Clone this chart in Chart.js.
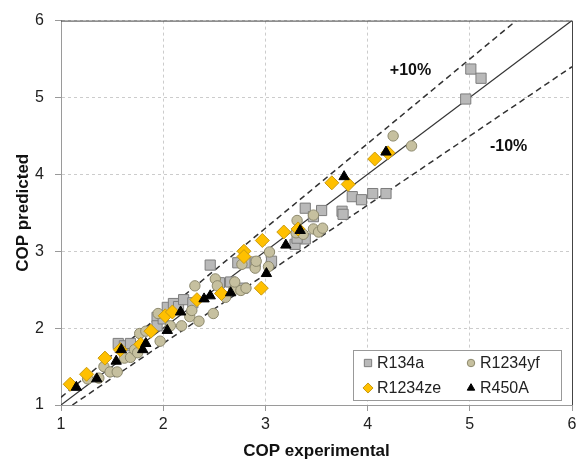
<!DOCTYPE html>
<html>
<head>
<meta charset="utf-8">
<script src="https://cdn.jsdelivr.net/npm/chart.js@4/dist/chart.umd.min.js"></script>
<style>
  html, body { margin: 0; padding: 0; background: #fff; }
  #wrap { width: 588px; height: 464px; }
</style>
</head>
<body>
<div id="wrap"><canvas id="myChart" width="588" height="464"></canvas></div>
<script>
// R134a
const r134aX = [1.56, 1.62, 1.68, 1.94, 1.94, 2.00, 2.04, 2.10, 2.15, 2.20, 2.29, 2.46, 2.55, 2.66, 2.78, 2.73, 2.82, 2.90, 3.06, 3.29, 3.39, 3.31, 3.39, 3.47, 3.55, 3.75, 3.76, 3.85, 3.94, 4.05, 4.18, 4.96, 5.01, 5.11];
const r134aY = [1.80, 1.77, 1.80, 2.14, 2.03, 2.12, 2.27, 2.32, 2.28, 2.37, 2.33, 2.82, 2.59, 2.60, 2.52, 2.85, 2.85, 2.86, 2.87, 3.09, 3.16, 3.17, 3.56, 3.45, 3.53, 3.52, 3.48, 3.71, 3.67, 3.75, 3.75, 4.98, 5.37, 5.25];
// R1234yf
const r1234yfX = [1.26, 1.37, 1.42, 1.48, 1.55, 1.62, 1.68, 1.72, 1.77, 1.75, 1.83, 1.97, 1.95, 2.07, 2.18, 2.26, 2.35, 2.28, 2.49, 2.31, 2.51, 2.53, 2.61, 2.69, 2.76, 2.81, 2.70, 2.77, 2.90, 2.91, 3.03, 3.04, 3.31, 3.30, 3.37, 3.47, 3.47, 3.52, 3.56, 4.25, 4.43];
const r1234yfY = [1.34, 1.35, 1.50, 1.43, 1.43, 1.61, 1.62, 1.72, 1.93, 1.68, 1.96, 1.83, 2.19, 2.03, 2.03, 2.15, 2.09, 2.23, 2.19, 2.55, 2.64, 2.55, 2.40, 2.50, 2.49, 2.52, 2.60, 2.83, 2.78, 2.87, 2.80, 2.99, 3.40, 3.24, 3.22, 3.47, 3.29, 3.25, 3.30, 4.50, 4.37];
// R1234ze
const r1234zeX = [1.09, 1.25, 1.43, 1.58, 1.78, 1.88, 2.02, 2.09, 2.33, 2.57, 2.79, 2.79, 2.96, 2.97, 3.18, 3.32, 3.65, 3.81, 4.07, 4.20];
const r1234zeY = [1.27, 1.40, 1.61, 1.72, 1.79, 1.96, 2.16, 2.21, 2.37, 2.45, 3.00, 2.93, 2.52, 3.14, 3.25, 3.29, 3.89, 3.87, 4.20, 4.28];
// R450A
const r450aX = [1.15, 1.35, 1.54, 1.59, 1.80, 1.83, 2.04, 2.17, 2.40, 2.46, 2.66, 3.01, 3.20, 3.34, 3.77, 4.18];
const r450aY = [1.23, 1.34, 1.57, 1.72, 1.72, 1.80, 1.97, 2.21, 2.38, 2.42, 2.46, 2.71, 3.08, 3.27, 3.97, 4.29];

// reference lines
const perfectX = [1, 6];
const perfectY = [1, 6];
const plusX = [1, 5.4545];
const plusY = [1.1, 6];
const minusX = [1.1111, 6];
const minusY = [1, 5.4];

const tickVals = [1, 2, 3, 4, 5, 6];
const bandLabels = ["+10%", "-10%"];
const bandLabelX = [4.42, 5.38];
const bandLabelY = [5.35, 4.36];

const legendNames = ["R134a", "R1234yf", "R1234ze", "R450A"];

function pts(xs, ys) {
  return xs.map((x, i) => ({x: x, y: ys[i]}));
}

const FONT = "'Liberation Sans', Arial, sans-serif";

const boxPlugin = {
  id: "boxAndLegend",
  afterDraw(chart) {
    const {ctx, chartArea: a, scales} = chart;
    ctx.save();
    // top and right frame
    ctx.strokeStyle = "#444";
    ctx.lineWidth = 1;
    ctx.beginPath();
    ctx.moveTo(a.left, a.top + 0.5);
    ctx.lineTo(a.right + 0.5, a.top + 0.5);
    ctx.lineTo(a.right + 0.5, a.bottom);
    ctx.stroke();

    // +10% / -10% labels
    ctx.fillStyle = "#111";
    ctx.font = "bold 16px " + FONT;
    ctx.textAlign = "center";
    ctx.textBaseline = "middle";
    bandLabels.forEach((t, i) => {
      ctx.fillText(t, scales.x.getPixelForValue(bandLabelX[i]), scales.y.getPixelForValue(bandLabelY[i]));
    });

    // legend box
    const bx = 353, by = 350, bw = 208, bh = 50;
    ctx.fillStyle = "#fff";
    ctx.fillRect(bx, by, bw, bh);
    ctx.strokeStyle = "#999";
    ctx.strokeRect(bx + 0.5, by + 0.5, bw, bh);

    const items = [
      {name: legendNames[0], x: 368, y: 363, ds: 1},
      {name: legendNames[1], x: 471, y: 363, ds: 2},
      {name: legendNames[2], x: 368, y: 388, ds: 3},
      {name: legendNames[3], x: 471, y: 388, ds: 4}
    ];
    ctx.font = "16px " + FONT;
    ctx.textAlign = "left";
    items.forEach(it => {
      const d = chart.data.datasets[it.ds];
      ctx.fillStyle = d.backgroundColor;
      ctx.strokeStyle = d.borderColor;
      ctx.lineWidth = 1;
      Chart.helpers.drawPoint(ctx, {pointStyle: d.pointStyle, radius: d.pointRadius * 0.72, borderWidth: 1, rotation: 0}, it.x, it.y);
      ctx.fillStyle = "#222";
      ctx.fillText(it.name, it.x + 9, it.y + 1);
    });
    ctx.restore();
  }
};

const ctx = document.getElementById("myChart").getContext("2d");
const myChart = new Chart(ctx, {
  type: "scatter",
  data: {
    datasets: [
      {
        label: "1:1",
        data: pts(perfectX, perfectY),
        showLine: true,
        borderColor: "#333",
        borderWidth: 1.2,
        pointRadius: 0,
        order: 10
      },
      {
        label: legendNames[0],
        data: pts(r134aX, r134aY),
        pointStyle: "rect",
        pointRadius: 7.2,
        backgroundColor: "#b9b9b9",
        borderColor: "#7d7d7d",
        borderWidth: 1,
        order: 4
      },
      {
        label: legendNames[1],
        data: pts(r1234yfX, r1234yfY),
        pointStyle: "circle",
        pointRadius: 5.2,
        backgroundColor: "#c6c09f",
        borderColor: "#8d896d",
        borderWidth: 1,
        order: 3
      },
      {
        label: legendNames[2],
        data: pts(r1234zeX, r1234zeY),
        pointStyle: "rectRot",
        pointRadius: 7,
        backgroundColor: "#ffc000",
        borderColor: "#c99a10",
        borderWidth: 1,
        order: 2
      },
      {
        label: legendNames[3],
        data: pts(r450aX, r450aY),
        pointStyle: "triangle",
        pointRadius: 6,
        backgroundColor: "#000",
        borderColor: "#000",
        borderWidth: 1,
        order: 1
      },
      {
        label: "+10%",
        data: pts(plusX, plusY),
        showLine: true,
        borderColor: "#333",
        borderWidth: 1.5,
        borderDash: [6, 4],
        pointRadius: 0,
        order: 10
      },
      {
        label: "-10%",
        data: pts(minusX, minusY),
        showLine: true,
        borderColor: "#333",
        borderWidth: 1.5,
        borderDash: [6, 4],
        pointRadius: 0,
        order: 10
      }
    ]
  },
  options: {
    responsive: false,
    animation: false,
    layout: { padding: { left: 9, top: 18, right: 16, bottom: 0 } },
    plugins: {
      legend: { display: false },
      tooltip: { enabled: false }
    },
    scales: {
      x: {
        type: "linear",
        min: 1,
        max: 6,
        afterBuildTicks: s => { s.ticks = tickVals.map(v => ({value: v})); },
        afterFit: s => { s.height = 59; },
        ticks: { color: "#222", font: { family: FONT, size: 16 }, padding: 4 },
        grid: { color: "#cccccc", tickColor: "#999", tickLength: 6 },
        border: { color: "#9a9a9a", dash: [3, 3] },
        title: { display: true, text: "COP experimental", color: "#111", font: { family: FONT, size: 17, weight: "bold" }, padding: { top: 2, bottom: 2 } }
      },
      y: {
        type: "linear",
        min: 1,
        max: 6,
        afterBuildTicks: s => { s.ticks = tickVals.map(v => ({value: v})); },
        afterFit: s => { s.width = 52; },
        ticks: { color: "#222", font: { family: FONT, size: 16 }, padding: 11 },
        grid: { color: "#cccccc", tickColor: "#999", tickLength: 6 },
        border: { color: "#9a9a9a", dash: [3, 3] },
        title: { display: true, text: "COP predicted", color: "#111", font: { family: FONT, size: 17, weight: "bold" }, padding: { top: 4, bottom: 4 } }
      }
    }
  },
  plugins: [boxPlugin]
});
</script>
</body>
</html>
